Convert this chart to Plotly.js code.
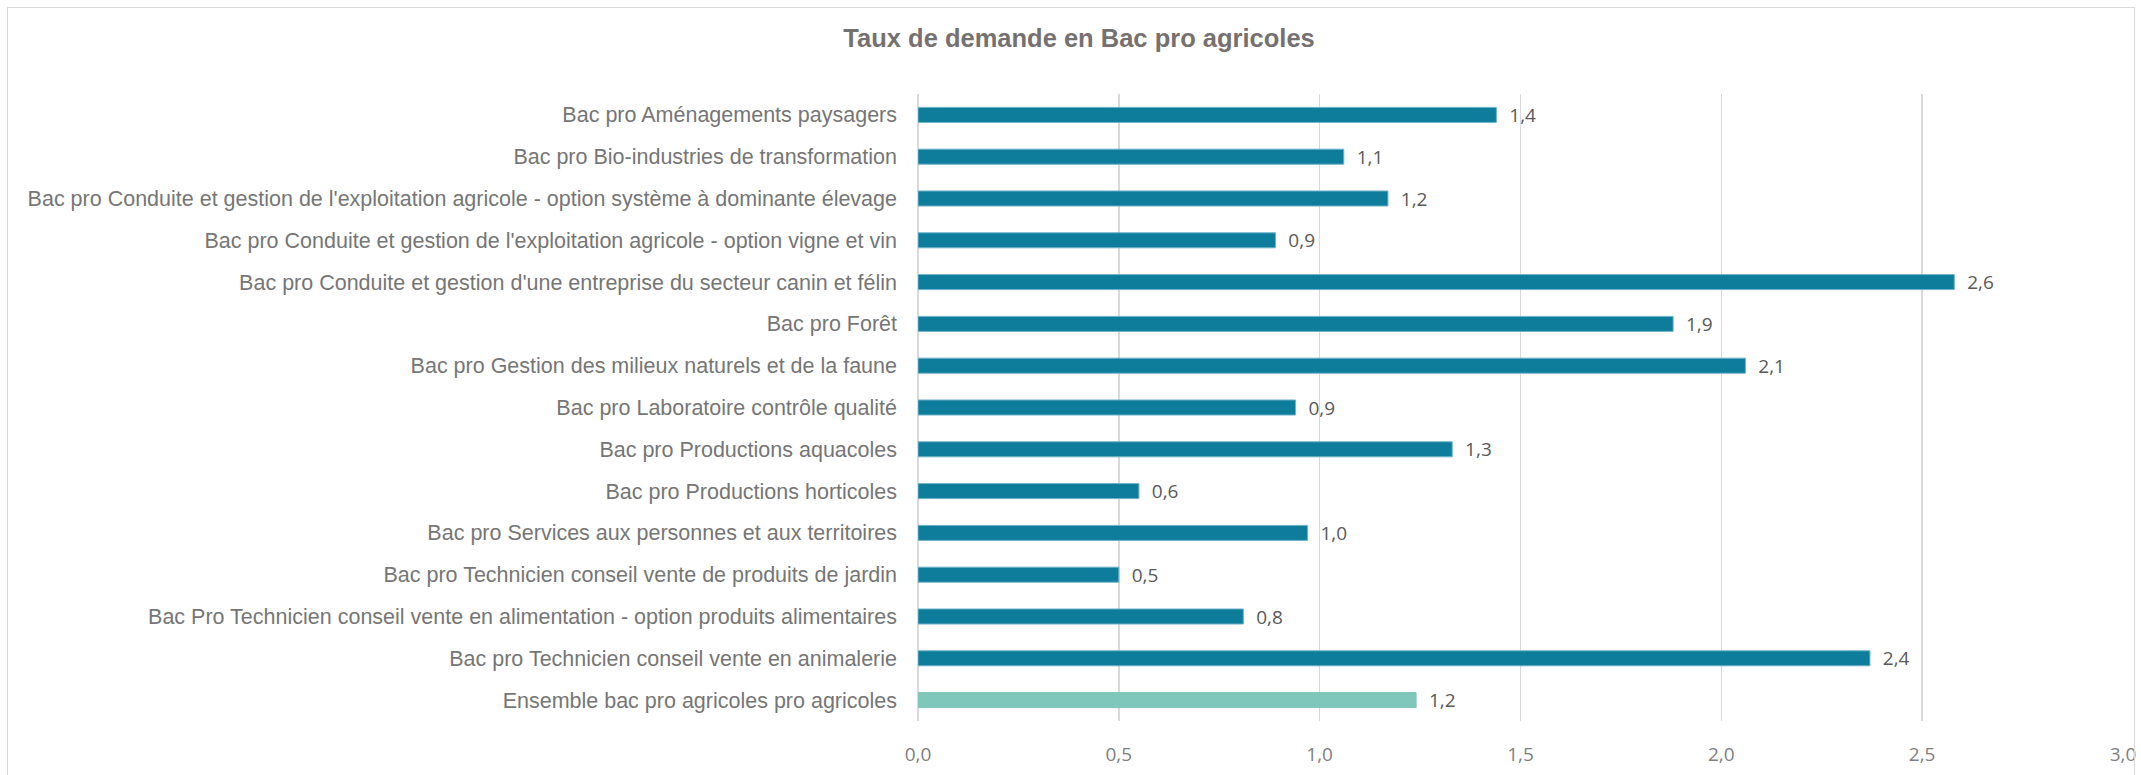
<!DOCTYPE html>
<html>
<head>
<meta charset="utf-8">
<script src="https://cdn.plot.ly/plotly-3.0.1.min.js"></script>
<style>
  html, body { margin: 0; padding: 0; background: #ffffff; overflow: hidden; }
  #chart { position: absolute; left: 0; top: 0; width: 2141px; height: 775px; }
  #frame { position: absolute; left: 7px; top: 7px; width: 2126px; height: 800px; border: 1px solid #d9d9d9; pointer-events: none; }
</style>
</head>
<body>
<div id="chart"></div>
<div id="frame"></div>
<script>
const categories = [
  "Bac pro Aménagements paysagers",
  "Bac pro Bio-industries de transformation",
  "Bac pro Conduite et gestion de l'exploitation agricole - option système à dominante élevage",
  "Bac pro Conduite et gestion de l'exploitation agricole - option vigne et vin",
  "Bac pro Conduite et gestion d'une entreprise du secteur canin et félin",
  "Bac pro Forêt",
  "Bac pro Gestion des milieux naturels et de la faune",
  "Bac pro Laboratoire contrôle qualité",
  "Bac pro Productions aquacoles",
  "Bac pro Productions horticoles",
  "Bac pro Services aux personnes et aux territoires",
  "Bac pro Technicien conseil vente de produits de jardin",
  "Bac Pro Technicien conseil vente en alimentation - option produits alimentaires",
  "Bac pro Technicien conseil vente en animalerie",
  "Ensemble bac pro agricoles pro agricoles"
];
const values = [1.44, 1.06, 1.17, 0.89, 2.58, 1.88, 2.06, 0.94, 1.33, 0.55, 0.97, 0.50, 0.81, 2.37, 1.24];
const tickValues = [0, 0.5, 1, 1.5, 2, 2.5, 3];
const tickLabels = ["0,0", "0,5", "1,0", "1,5", "2,0", "2,5", "3,0"];

const colorMain = "#0e7c9b";
const colorMainEdge = "#6fb2cb";
const colorTotal = "#7fc7ba";
const isTotal = categories.map(c => c.startsWith("Ensemble"));
const barColors = isTotal.map(t => t ? colorTotal : colorMain);
const edgeColors = isTotal.map(t => t ? colorTotal : colorMainEdge);

const trace = {
  type: "bar",
  orientation: "h",
  x: values,
  y: categories,
  marker: { color: barColors, line: { color: edgeColors, width: 1 } },
  texttemplate: "  %{x:.1f}",
  textposition: "outside",
  constraintext: "none",
  cliponaxis: false,
  textfont: { family: "Open Sans, sans-serif", size: 19, color: "#595959" },
  hoverinfo: "skip"
};

const layout = {
  width: 2141,
  height: 775,
  paper_bgcolor: "#ffffff",
  plot_bgcolor: "#ffffff",
  separators: ", ",
  margin: { l: 918, r: 18, t: 94, b: 54 },
  bargap: 0.64,
  showlegend: false,
  title: {
    text: "<b>Taux de demande en Bac pro agricoles</b>",
    x: 0.504, xref: "container", xanchor: "center",
    y: 46, yref: "container",
    font: { family: "Liberation Sans, Arial, sans-serif", size: 25.5, color: "#767171" }
  },
  xaxis: {
    range: [0, 3],
    tickvals: tickValues,
    ticktext: tickLabels,
    showgrid: true,
    gridcolor: "#d9d9d9",
    gridwidth: 1.5,
    zeroline: true,
    zerolinecolor: "#d9d9d9",
    zerolinewidth: 1.5,
    showline: false,
    ticks: "",
    ticklabelstandoff: 20,
    tickfont: { family: "Open Sans, sans-serif", size: 19, color: "#7f7f7f" },
    fixedrange: true
  },
  yaxis: {
    autorange: "reversed",
    showgrid: false,
    zeroline: false,
    showline: false,
    ticks: "",
    ticklabelstandoff: 20,
    tickfont: { family: "Liberation Sans, Arial, sans-serif", size: 21.5, color: "#767676" },
    fixedrange: true
  }
};

Plotly.newPlot("chart", [trace], layout, { displayModeBar: false, staticPlot: true });
</script>
</body>
</html>
